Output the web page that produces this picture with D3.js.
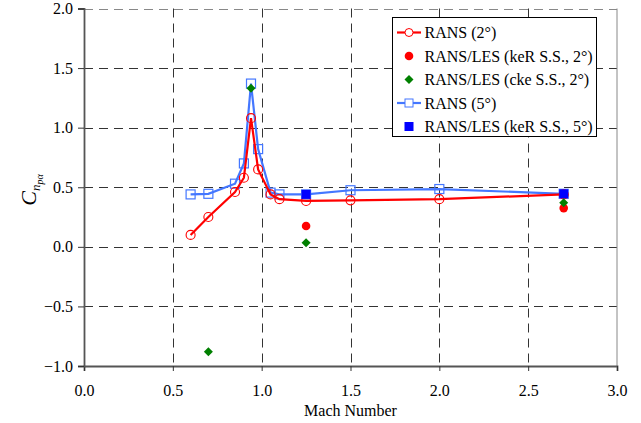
<!DOCTYPE html>
<html>
<head>
<meta charset="utf-8">
<script src="https://cdn.jsdelivr.net/npm/d3@7"></script>
<style>
	body { margin: 0; background: #fff; }
	text { font-family: "Liberation Serif", "Times New Roman", serif; }
</style>
</head>
<body>
<div id="chart"></div>
<script>
var machRans = [0.6, 0.7, 0.85, 0.9, 0.94, 0.98, 1.05, 1.1, 1.25, 1.5, 2.0, 2.7];
var rans2 = [0.10, 0.25, 0.46, 0.58, 1.08, 0.65, 0.44, 0.40, 0.385, 0.39, 0.40, 0.44];
var rans5 = [0.44, 0.445, 0.53, 0.70, 1.37, 0.82, 0.455, 0.44, 0.44, 0.475, 0.485, 0.445];
var machKeR2 = [1.25, 2.7];
var keR2 = [0.175, 0.325];
var machCke2 = [0.7, 0.94, 1.25, 2.7];
var cke2 = [-0.88, 1.33, 0.035, 0.37];
var machKeR5 = [1.25, 2.7];
var keR5 = [0.44, 0.445];
var xTicks = [0.0, 0.5, 1.0, 1.5, 2.0, 2.5, 3.0];
var yTicks = [-1.0, -0.5, 0.0, 0.5, 1.0, 1.5, 2.0];
var legendLabels = ["RANS (2\u00b0)", "RANS/LES (keR S.S., 2\u00b0)", "RANS/LES (cke S.S., 2\u00b0)", "RANS (5\u00b0)", "RANS/LES (keR S.S., 5\u00b0)"];

var red = "#ff0000", lineBlue = "#4477ff", blue = "#0000ff", green = "#008000";

var width = 641, height = 423;
var margin = {left: 84, right: 24, top: 8.5, bottom: 57};

var svg = d3.select("#chart")
	.append("svg")
	.attr("width", width)
	.attr("height", height)
	.style("background", "#fff");

var x = d3.scaleLinear().domain([0, 3]).range([margin.left, width - margin.right]);
var y = d3.scaleLinear().domain([-1, 2]).range([height - margin.bottom, margin.top]);

// grid
svg.append("g").selectAll("line.gx")
	.data(xTicks.slice(1, -1))
	.enter().append("line")
	.attr("x1", function(d) { return Math.round(x(d)) + 0.5; })
	.attr("x2", function(d) { return Math.round(x(d)) + 0.5; })
	.attr("y1", y(2)).attr("y2", y(-1))
	.attr("stroke", "#333").attr("stroke-dasharray", "9,6");
svg.append("g").selectAll("line.gy")
	.data(yTicks.slice(1))
	.enter().append("line")
	.attr("y1", function(d) { return Math.round(y(d)) + 0.5; })
	.attr("y2", function(d) { return Math.round(y(d)) + 0.5; })
	.attr("x1", x(0)).attr("x2", x(3))
	.attr("stroke", function(d) { return d == 2 ? "#888" : "#333"; })
	.attr("stroke-dasharray", "9,6");

// right border
svg.append("line")
	.attr("x1", x(3)).attr("x2", x(3)).attr("y1", y(2)).attr("y2", y(-1))
	.attr("stroke", "#888");

// axes
var xAxis = svg.append("g")
	.attr("transform", "translate(0," + y(-1) + ")")
	.call(d3.axisBottom(x).tickValues(xTicks).tickFormat(d3.format(".1f")).tickSize(5).tickPadding(14));
var yAxis = svg.append("g")
	.attr("transform", "translate(" + x(0) + ",0)")
	.call(d3.axisLeft(y).tickValues(yTicks).tickFormat(d3.format(".1f")).tickSize(6).tickPadding(5));
[xAxis, yAxis].forEach(function(a) {
	a.attr("font-family", null).attr("font-size", null);
	a.select(".domain").attr("stroke", "#555").attr("stroke-width", 1.8);
	a.selectAll(".tick line").attr("stroke", "#333");
	a.selectAll(".tick text")
		.attr("fill", "#000")
		.style("font-family", "'Liberation Serif', serif")
		.style("font-size", "16px");
});

svg.append("text")
	.attr("x", (x(0) + x(3)) / 2)
	.attr("y", 416)
	.attr("text-anchor", "middle")
	.style("font-size", "16px")
	.text("Mach Number");

var ylab = svg.append("text")
	.attr("transform", "translate(36,190) rotate(-90)")
	.attr("text-anchor", "middle")
	.style("font-style", "italic");
ylab.append("tspan").style("font-size", "22px").text("C");
ylab.append("tspan").style("font-size", "13px").attr("dy", 4).text("n");
ylab.append("tspan").style("font-size", "10px").attr("dy", 3).text("p\u03b1");

// series
var line = d3.line()
	.x(function(d) { return x(d[0]); })
	.y(function(d) { return y(d[1]); });
var ptsR2 = d3.zip(machRans, rans2);
var ptsR5 = d3.zip(machRans, rans5);

svg.append("path").datum(ptsR5).attr("d", line)
	.attr("fill", "none").attr("stroke", lineBlue).attr("stroke-width", 2.2);
svg.append("g").selectAll("rect")
	.data(ptsR5).enter().append("rect")
	.attr("x", function(d) { return x(d[0]) - 4.5; })
	.attr("y", function(d) { return y(d[1]) - 4.5; })
	.attr("width", 9).attr("height", 9)
	.attr("fill", "none").attr("stroke", lineBlue).attr("stroke-width", 1.2);

svg.append("path").datum(ptsR2).attr("d", line)
	.attr("fill", "none").attr("stroke", red).attr("stroke-width", 2.2);
svg.append("g").selectAll("circle")
	.data(ptsR2).enter().append("circle")
	.attr("cx", function(d) { return x(d[0]); })
	.attr("cy", function(d) { return y(d[1]); })
	.attr("r", 4.5)
	.attr("fill", "none").attr("stroke", red).attr("stroke-width", 1.1);

svg.append("g").selectAll("circle")
	.data(d3.zip(machKeR2, keR2)).enter().append("circle")
	.attr("cx", function(d) { return x(d[0]); })
	.attr("cy", function(d) { return y(d[1]); })
	.attr("r", 4.3)
	.attr("fill", red);

var diamond = d3.symbol().type(d3.symbolDiamond2).size(52);
svg.append("g").selectAll("path")
	.data(d3.zip(machCke2, cke2)).enter().append("path")
	.attr("transform", function(d) { return "translate(" + x(d[0]) + "," + y(d[1]) + ")"; })
	.attr("d", diamond)
	.attr("fill", green);

svg.append("g").selectAll("rect")
	.data(d3.zip(machKeR5, keR5)).enter().append("rect")
	.attr("x", function(d) { return x(d[0]) - 4.5; })
	.attr("y", function(d) { return y(d[1]) - 4.5; })
	.attr("width", 9).attr("height", 9)
	.attr("fill", blue);

// legend
var lg = svg.append("g").attr("transform", "translate(392.5,17.5)");
lg.append("rect")
	.attr("width", 204).attr("height", 119)
	.attr("fill", "#fff").attr("stroke", "#000");
var rowY = [15, 38.5, 62, 85.5, 109];
legendLabels.forEach(function(t, i) {
	var ry = rowY[i];
	if (i == 0 || i == 3) {
		lg.append("line")
			.attr("x1", 4.5).attr("x2", 28.5).attr("y1", ry).attr("y2", ry)
			.attr("stroke", i == 0 ? red : lineBlue).attr("stroke-width", 2.2);
	}
	if (i == 0) {
		lg.append("circle").attr("cx", 16.5).attr("cy", ry).attr("r", 4)
			.attr("fill", "#fff").attr("stroke", red);
	} else if (i == 1) {
		lg.append("circle").attr("cx", 16.5).attr("cy", ry).attr("r", 4.3).attr("fill", red);
	} else if (i == 2) {
		lg.append("path").attr("transform", "translate(16.5," + ry + ")")
			.attr("d", diamond).attr("fill", green);
	} else if (i == 3) {
		lg.append("rect").attr("x", 12.5).attr("y", ry - 4).attr("width", 8).attr("height", 8)
			.attr("fill", "#fff").attr("stroke", lineBlue);
	} else {
		lg.append("rect").attr("x", 12).attr("y", ry - 4.5).attr("width", 9).attr("height", 9)
			.attr("fill", blue);
	}
	lg.append("text")
		.attr("x", 32).attr("y", ry + 5.5)
		.style("font-size", "16px")
		.text(t);
});
</script>
</body>
</html>
